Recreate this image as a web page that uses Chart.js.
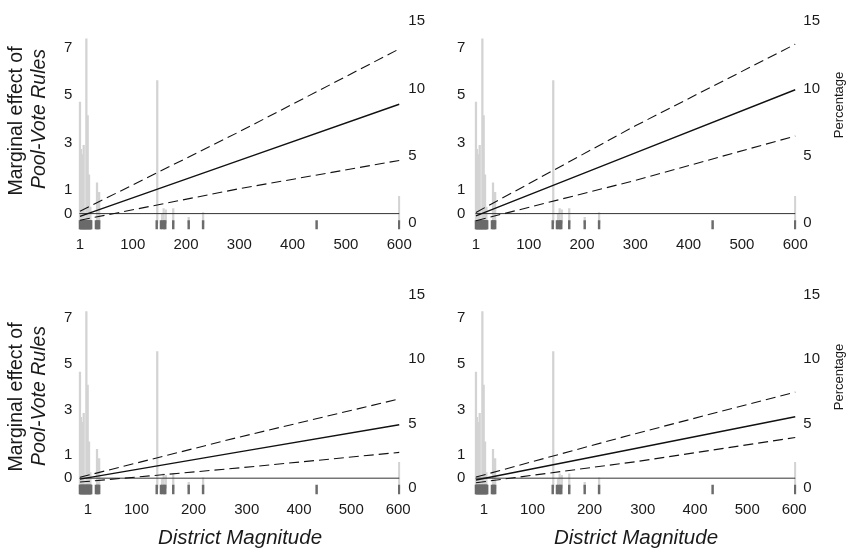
<!DOCTYPE html>
<html lang="en">
<head>
<meta charset="UTF-8" />
<title>Marginal effect of Pool-Vote Rules</title>
<script src="https://cdn.jsdelivr.net/npm/chart.js@4"></script>
<style>
  body { margin: 0; background: #fff; }
  #wrap { position: relative; width: 849px; height: 556px; overflow: hidden; }
  canvas { position: absolute; }
</style>
</head>
<body>
<div id="wrap">
  <canvas id="c-tl"></canvas>
  <canvas id="c-tr"></canvas>
  <canvas id="c-bl"></canvas>
  <canvas id="c-br"></canvas>
</div>
<script>
// histogram of district magnitude (percent of districts)
const histMagnitude = [1, 3, 5.5, 8, 13, 15.5, 18, 20.5, 33, 37, 146, 155, 158, 162, 176, 205, 232, 600];
const histPercent = [9.0, 5.5, 5.1, 5.8, 13.7, 8.0, 3.6, 1.2, 3.0, 2.3, 10.6, 0.7, 1.1, 1.0, 1.1, 0.45, 0.8, 2.0];

// rug: observed magnitudes
const rugMagnitude = [1, 2, 3, 4, 5, 6, 7, 8, 9, 10, 11, 12, 13, 14, 15, 16, 17, 18, 19, 20, 21, 22,
  31, 33, 35, 37, 145, 153, 156, 159, 161, 176, 205, 232, 445, 600];

// marginal effect lines (estimate, upper and lower bound)
const fitMagnitude = [1, 300, 600];
const effectTL = [-0.12, 2.24, 4.61];
const upperTL = [0.1, 3.45, 6.94];
const lowerTL = [-0.28, 1.05, 2.24];
const effectTR = [-0.1, 2.56, 5.22];
const upperTR = [0.05, 3.7, 7.14];
const lowerTR = [-0.3, 1.4, 3.27];
const effectBL = [-0.04, 1.15, 2.34];
const upperBL = [0.04, 1.8, 3.47];
const lowerBL = [-0.17, 0.45, 1.13];
const effectBR = [-0.08, 1.3, 2.69];
const upperBR = [0.05, 1.95, 3.77];
const lowerBR = [-0.2, 0.72, 1.78];

const xTicks = [1, 100, 200, 300, 400, 500, 600];
const effectTicks = [0, 1, 3, 5, 7];
const percentTicks = [0, 5, 10, 15];

const FONT = '"Liberation Sans", Arial, sans-serif';
const INK = "#1a1a1a";

const textPlugin = {
  id: "panelText",
  afterDraw(chart, args, opts) {
    const ctx = chart.ctx;
    (opts.items || []).forEach((it) => {
      ctx.save();
      ctx.translate(it.x, it.y);
      if (it.rot) ctx.rotate(it.rot);
      ctx.font = it.font;
      ctx.fillStyle = INK;
      ctx.textAlign = "center";
      ctx.textBaseline = "alphabetic";
      ctx.fillText(it.text, 0, 0);
      ctx.restore();
    });
  },
};

function pts(xs, ys) {
  return xs.map((x, i) => ({ x: x, y: ys[i] }));
}

function makePanel(id, box, lines, texts) {
  const canvas = document.getElementById(id);
  canvas.width = box.w;
  canvas.height = box.h;
  canvas.style.left = box.x + "px";
  canvas.style.top = box.y + "px";

  const a = {
    l: box.areaL - box.x,
    r: box.areaR - box.x,
    t: box.areaT - box.y,
    b: box.areaB - box.y,
  };
  // left axis: effect units, right axis: percent
  const effMin = -(box.areaB - box.eff0) / box.effPx;
  const effMax = (box.eff0 - box.areaT) / box.effPx;
  const pctMin = -(box.areaB - box.pct0) / box.pctPx;
  const pctMax = (box.pct0 - box.areaT) / box.pctPx;

  const items = texts.map((t) => ({ ...t, x: t.x - box.x, y: t.y - box.y }));

  return new Chart(canvas, {
    data: {
      datasets: [
        {
          type: "bar",
          yAxisID: "yPct",
          data: pts(histMagnitude, histPercent),
          backgroundColor: "#d3d3d3",
          barThickness: 1.6,
          grouped: false,
          order: 10,
        },
        {
          type: "bar",
          yAxisID: "yEff",
          data: rugMagnitude.map((m) => ({ x: m, y: box.rug })),
          backgroundColor: "#6b6b6b",
          barThickness: 1.8,
          grouped: false,
          order: 9,
        },
        {
          type: "line",
          yAxisID: "yEff",
          data: [{ x: 0, y: 0 }, { x: 600, y: 0 }],
          borderColor: "#333",
          borderWidth: 1,
          pointRadius: 0,
          order: 4,
        },
        {
          type: "line",
          yAxisID: "yEff",
          data: pts(fitMagnitude, lines.upper),
          borderColor: "#111",
          borderWidth: 1.1,
          borderDash: [10, 5],
          pointRadius: 0,
          order: 3,
        },
        {
          type: "line",
          yAxisID: "yEff",
          data: pts(fitMagnitude, lines.lower),
          borderColor: "#111",
          borderWidth: 1.1,
          borderDash: [10, 5],
          pointRadius: 0,
          order: 2,
        },
        {
          type: "line",
          yAxisID: "yEff",
          data: pts(fitMagnitude, lines.effect),
          borderColor: "#111",
          borderWidth: 1.4,
          pointRadius: 0,
          order: 1,
        },
      ],
    },
    options: {
      responsive: false,
      animation: false,
      events: [],
      layout: { padding: { top: a.t, left: 0, right: 0, bottom: 0 } },
      plugins: {
        legend: { display: false },
        tooltip: { enabled: false },
        panelText: { items: items },
      },
      scales: {
        x: {
          type: "linear",
          min: -4,
          max: 602,
          offset: false,
          grid: { display: false, drawTicks: false },
          border: { display: false },
          afterBuildTicks: (s) => {
            s.ticks = box.xTickPos.map((v) => ({ value: v }));
          },
          afterFit: (s) => {
            s.height = box.h - a.b;
          },
          ticks: {
            autoSkip: false,
            maxRotation: 0,
            padding: 4,
            color: INK,
            font: { family: FONT, size: 15 },
            callback: (v, i) => String(xTicks[i]),
          },
        },
        yEff: {
          type: "linear",
          position: "left",
          min: effMin,
          max: effMax,
          grid: { display: false, drawTicks: false },
          border: { display: false },
          afterBuildTicks: (s) => {
            s.ticks = effectTicks.map((v) => ({ value: v }));
          },
          afterFit: (s) => {
            s.width = a.l;
          },
          ticks: {
            padding: box.padL,
            color: INK,
            font: { family: FONT, size: 15 },
            callback: (v) => String(v),
          },
        },
        yPct: {
          type: "linear",
          position: "right",
          min: pctMin,
          max: pctMax,
          grid: { display: false, drawTicks: false },
          border: { display: false },
          afterBuildTicks: (s) => {
            s.ticks = percentTicks.map((v) => ({ value: v }));
          },
          afterFit: (s) => {
            s.width = box.w - a.r;
          },
          ticks: {
            padding: box.padR,
            color: INK,
            font: { family: FONT, size: 15 },
            callback: (v) => String(v),
          },
        },
      },
    },
    plugins: [textPlugin],
  });
}

const ROT = -Math.PI / 2;
const yTitle1 = { text: "Marginal effect of", rot: ROT, font: "19.5px " + FONT };
const yTitle2 = { text: "Pool-Vote Rules", rot: ROT, font: "italic 19.5px " + FONT };
const pctTitle = { text: "Percentage", rot: ROT, font: "13px " + FONT };
const xTitle = { text: "District Magnitude", font: "italic 20.5px " + FONT };

// label positions of the magnitude ticks (the lower row sits a little to the right)
const xTickPosTop = [1, 100, 200, 300, 400, 500, 600];
const xTickPosBottom = [16, 107, 214, 314, 412, 510, 598];

const topRow = { y: 0, h: 262, areaT: 10, areaB: 232, eff0: 213, effPx: 24.5, pct0: 223, pctPx: 13.9, rug: [-0.65, -0.29], xTickPos: xTickPosTop };
const botRow = { y: 270, h: 286, areaT: 285, areaB: 497, eff0: 478, effPx: 23.05, pct0: 488, pctPx: 13.0, rug: [-0.69, -0.3], xTickPos: xTickPosBottom };
const leftCol = { x: 0, w: 440, areaL: 77.3, areaR: 400.3, padL: 5, padR: 8 };
const rightCol = { x: 420, w: 429, areaL: 473.3, areaR: 796.3, padL: 8, padR: 7 };

makePanel("c-tl", { ...topRow, ...leftCol }, { effect: effectTL, upper: upperTL, lower: lowerTL }, [
  { ...yTitle1, x: 21.5, y: 121 },
  { ...yTitle2, x: 45, y: 119 },
]);
makePanel("c-tr", { ...topRow, ...rightCol }, { effect: effectTR, upper: upperTR, lower: lowerTR }, [
  { ...pctTitle, x: 843, y: 105 },
]);
makePanel("c-bl", { ...botRow, ...leftCol }, { effect: effectBL, upper: upperBL, lower: lowerBL }, [
  { ...yTitle1, x: 21.5, y: 397 },
  { ...yTitle2, x: 45, y: 396 },
  { ...xTitle, x: 240, y: 544 },
]);
makePanel("c-br", { ...botRow, ...rightCol }, { effect: effectBR, upper: upperBR, lower: lowerBR }, [
  { ...pctTitle, x: 843, y: 377 },
  { ...xTitle, x: 636, y: 544 },
]);
</script>
</body>
</html>
